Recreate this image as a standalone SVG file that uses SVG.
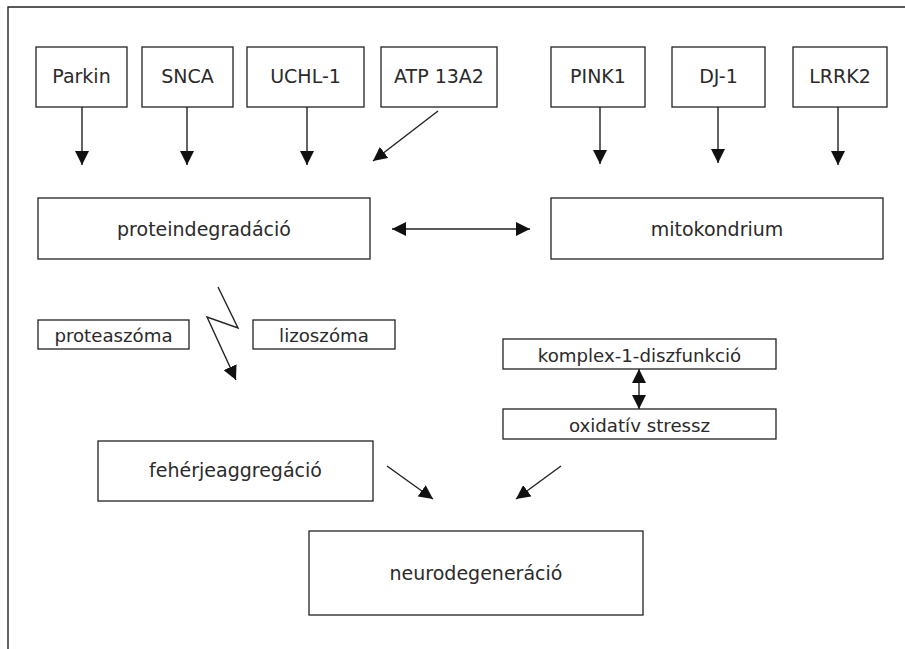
<svg xmlns="http://www.w3.org/2000/svg" width="905" height="649" viewBox="0 0 905 649">
<style>
.box{fill:#fff;stroke:#222;stroke-width:1.3}
.t{font-family:"DejaVu Sans","Liberation Sans",sans-serif;font-size:19px;fill:#2a2a2a;text-anchor:middle}
.ts{font-family:"DejaVu Sans","Liberation Sans",sans-serif;font-size:18.2px;fill:#2a2a2a;text-anchor:middle}
.ln{stroke:#222;stroke-width:1.4;fill:none}
</style>
<defs>
<marker id="ah" viewBox="0 0 12 12" refX="12" refY="6" markerWidth="14" markerHeight="14" markerUnits="userSpaceOnUse" orient="auto-start-reverse">
<path d="M0,0 L12,6 L0,12 Z" fill="#111"/>
</marker>
</defs>
<rect x="0" y="0" width="905" height="649" fill="#fff"/>
<g id="frame">
<polyline points="905,7 8,7 8,649" class="ln" stroke-width="2"/>
</g>
<g id="connectors">
<line x1="82" y1="107" x2="82" y2="165" class="ln" marker-end="url(#ah)"/>
<line x1="187" y1="107" x2="187" y2="165" class="ln" marker-end="url(#ah)"/>
<line x1="307" y1="107" x2="307" y2="165" class="ln" marker-end="url(#ah)"/>
<line x1="438" y1="111" x2="373" y2="161" class="ln" marker-end="url(#ah)"/>
<line x1="600" y1="107" x2="600" y2="164" class="ln" marker-end="url(#ah)"/>
<line x1="718" y1="105" x2="718" y2="163" class="ln" marker-end="url(#ah)"/>
<line x1="838" y1="107" x2="838" y2="165" class="ln" marker-end="url(#ah)"/>
<line x1="392" y1="229" x2="530" y2="229" class="ln" marker-start="url(#ah)" marker-end="url(#ah)"/>
<polyline points="218,287 238,328 207,317 236,380" class="ln" stroke-width="1.8" marker-end="url(#ah)"/>
<line x1="639" y1="369" x2="639" y2="409" class="ln" marker-start="url(#ah)" marker-end="url(#ah)"/>
<line x1="387" y1="466" x2="433" y2="499" class="ln" marker-end="url(#ah)"/>
<line x1="561" y1="466" x2="516" y2="499" class="ln" marker-end="url(#ah)"/>
</g>
<g id="parkin"><rect class="box" x="36" y="47" width="91" height="60"/><text class="t" x="81.5" y="83">Parkin</text></g>
<g id="snca"><rect class="box" x="142" y="47" width="91" height="60"/><text class="t" x="187.5" y="83">SNCA</text></g>
<g id="uchl1"><rect class="box" x="247" y="47" width="117" height="60"/><text class="t" x="305.5" y="83">UCHL-1</text></g>
<g id="atp13a2"><rect class="box" x="381" y="47" width="116" height="60"/><text class="t" x="439" y="83">ATP 13A2</text></g>
<g id="pink1"><rect class="box" x="551" y="47" width="94" height="60"/><text class="t" x="598" y="83">PINK1</text></g>
<g id="dj1"><rect class="box" x="672" y="47" width="93" height="60"/><text class="t" x="718.5" y="83">DJ-1</text></g>
<g id="lrrk2"><rect class="box" x="793" y="47" width="94" height="60"/><text class="t" x="840" y="83">LRRK2</text></g>
<g id="proteindegradacio"><rect class="box" x="38" y="198" width="332" height="61"/><text class="t" x="204" y="236">proteindegradáció</text></g>
<g id="mitokondrium"><rect class="box" x="551" y="198" width="332" height="61"/><text class="t" x="717" y="236">mitokondrium</text></g>
<g id="proteaszoma"><rect class="box" x="38" y="320" width="151" height="29"/><text class="ts" x="113.5" y="342">proteaszóma</text></g>
<g id="lizoszoma"><rect class="box" x="253" y="320" width="142" height="29"/><text class="ts" x="324" y="342">lizoszóma</text></g>
<g id="komplex1"><rect class="box" x="503" y="339" width="273" height="30"/><text class="ts" x="639.5" y="362">komplex-1-diszfunkció</text></g>
<g id="oxidativ"><rect class="box" x="503" y="409" width="273" height="30"/><text class="ts" x="639.5" y="432">oxidatív stressz</text></g>
<g id="feherjeaggregacio"><rect class="box" x="98" y="441" width="275" height="60"/><text class="t" x="235.5" y="477">fehérjeaggregáció</text></g>
<g id="neurodegeneracio"><rect class="box" x="309" y="531" width="334" height="84"/><text class="t" x="476" y="580">neurodegeneráció</text></g>
</svg>
